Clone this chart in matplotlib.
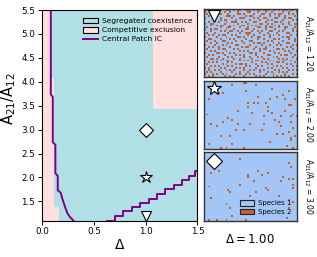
import numpy as np
import matplotlib
matplotlib.use("Agg")
import matplotlib.pyplot as plt
from matplotlib.colors import ListedColormap
from matplotlib.patches import Patch
from matplotlib.lines import Line2D

# ---------------- data ----------------
# phase diagram grid (Delta edges x ratio edges), 0 = segregated coexistence, 1 = competitive exclusion
delta_edges = [0.0, 0.087, 0.12, 0.165, 1.07, 1.5]
ratio_edges = [1.1, 1.38, 3.44, 4.08, 5.5]
phase = [
    [1, 1, 1, 0, 0],
    [1, 1, 0, 0, 0],
    [1, 1, 0, 0, 1],
    [1, 0, 0, 0, 1],
]

# Central patch IC boundary (left branch)
left_delta = [0.085, 0.085, 0.104, 0.104, 0.129, 0.129, 0.152, 0.152, 0.181, 0.194, 0.223, 0.245, 0.271, 0.303]
left_ratio = [5.5, 3.74, 3.68, 2.74, 2.68, 2.09, 2.03, 1.73, 1.68, 1.57, 1.38, 1.25, 1.17, 1.10]
# right branch (staircase)
right_delta = [0.63, 0.70, 0.78, 0.87, 0.95, 1.03, 1.11, 1.19, 1.27, 1.35, 1.42, 1.48, 1.50]
right_ratio = [1.10, 1.20, 1.29, 1.38, 1.47, 1.56, 1.65, 1.75, 1.85, 1.94, 2.04, 2.14, 2.14]

# snapshot parameters
snap_delta = 1.0
snap_ratios = [1.20, 2.00, 3.00]
snap_markers = ["v", "*", "D"]

# lattice snapshot for ratio 1.20 ('#' = species 2)
lattice_120 = [
    "##.###.##..###.#.##..###.#.##.###..##.#.###.##.#",
    "#...##....#..#...#....##...#...#..#.....#..#...#",
    ".#..#..##...#....##.#....#...##..#..#.##...#.#..",
    "..#...#....###.#.....#.##...#....#....#..#....#.",
    "#...##..#.....#...###....#.#..##....##...#.##...",
    ".....#..#.##....#......#....#...#.#.....#....#.#",
    "..#....#...#..###..#.#...##....#....##.#...#....",
    "#..##.....#......#....#.....##..#.#.....#..#..##",
    "...#..#.##...#.#...##...#.#....#....#.#.....#...",
    ".#......#...##....#...#....##..#.##...#..##...#.",
    "#..#.##....#...#.....##..#.....#....#....#...#..",
    "...#....#.#..##..#.#....#..#.#...##...#.#....#.#",
    ".#...#......#.....#..###....#...#....#....##....",
    "..#.#..#.##...#.#.....#..#....#..#.#..#.....#..#",
    "#.....#....#.....##.#...#..##....#......#.##....",
    "..##....#....#.#.....#.....#..#....##.#....#..#.",
    ".#...#...##.....#..#...##.......#.#.....#.....#.",
    "...#..#.....#.#.....#....#.##.#....#..#...##....",
    "#....#...#.#....##.....#.....#...#...#.#.....#.#",
    "..#.#..#.....#.....#.##...#....#...#......#.#...",
    ".#.....#.##....#.#.......#..#.##.....##.#....#..",
    "...#.#.....#......#.#.#.....#....#.#.....#.#...#",
    "#.....##.#...#.#.......##.#...#.....#.#.....#...",
    "..#.#.....#.....#.#.#.....#.....##.....#.##...#.",
    ".#.....#....#.#.....#..#...#.#.....#.#.......#..",
    "...##.#..#.....#..#.....#.....#.#.....#.#.#....#",
    "#.......#..##.....#.#.#...##.....#.#.....#..#...",
    "..#.#.#.....#.#.........#....#.#.....##.#.....#.",
    ".#.......#.#....#.##.#....#.....#.#.......#.#...",
    "...#.#.#....#.#......#.#...#.#.....#.#.#.....#.#",
    "#.#.....#.#.....#.#.#.....#.....#.#.....#.#.....",
    "..#..#.#...#.#.#....#..#.#..#.#.....#.#....#.#.#",
    ".#.#....#.....#...#...#.....#...#.#...#.#.#.....",
    "#...#.#..#.#....#.#..#.#.#.....#...#.....#...#.#",
    "..#.#.....#..#.#....#.....#.#.#....#.#.#.#.#....",
]
# species-2 cells (col, row) for ratio 2.00
cells_200 = [(14, 2), (20, 1), (21, 1), (26, 2), (7, 6), (9, 6), (21, 5), (34, 4), (43, 5), (40, 7),
             (37, 8), (27, 8), (33, 9), (41, 9), (2, 9), (22, 11), (25, 11), (27, 11), (31, 11),
             (46, 9), (44, 12), (43, 12), (32, 13), (22, 13), (41, 15), (17, 15), (24, 16), (34, 16),
             (32, 15), (30, 18), (1, 17), (12, 19), (14, 20), (45, 17), (47, 18), (44, 18), (39, 18),
             (38, 21), (23, 22), (17, 22), (9, 21), (3, 22), (6, 23), (30, 22), (36, 20), (44, 21),
             (20, 25), (29, 25), (45, 24), (43, 26), (40, 27), (37, 27), (8, 28), (16, 25), (13, 28),
             (46, 28), (44, 30), (42, 33), (33, 31), (14, 32), (2, 32), (8, 34), (11, 34), (20, 34),
             (45, 34), (39, 23), (44, 29)]
# species-2 cells (col, row) for ratio 3.00
cells_300 = [(18, 3), (43, 5), (44, 7), (7, 9), (3, 10), (27, 9), (32, 10), (22, 11), (22, 12),
             (25, 14), (29, 11), (40, 12), (43, 13), (45, 13), (39, 14), (45, 16), (18, 16), (31, 18),
             (32, 19), (45, 18), (2, 17), (12, 19), (13, 20), (26, 20), (23, 22), (38, 22), (3, 23),
             (43, 24), (45, 25), (11, 26), (13, 28), (43, 28), (14, 32), (42, 33), (11, 34), (6, 34),
             (2, 34), (21, 34)]

NCOL, NROW = 48, 35

# ---------------- style ----------------
c_coex = "#b0dfe5"
c_excl = "#ffe0de"
c_line = "#800080"
c_sp1 = "#a3c6f7"
c_sp2 = "#c0622a"

fig = plt.figure(figsize=(3.17, 2.57), dpi=100)

ax = fig.add_axes([0.1325, 0.142, 0.4905, 0.819])
ax.pcolormesh(delta_edges, ratio_edges, np.array(phase),
              cmap=ListedColormap([c_coex, c_excl]), vmin=0, vmax=1, shading="flat")
ax.plot(left_delta, left_ratio, color=c_line, lw=1.4)
ax.step(right_delta, right_ratio, where="post", color=c_line, lw=1.4)
for r, m in zip(snap_ratios, snap_markers):
    ms = 9 if m == "*" else 7
    ax.plot(snap_delta, r, marker=m, ms=ms, mfc="white", mec="black", mew=0.8,
            clip_on=False, zorder=5)
ax.set_xlim(0, 1.5)
ax.set_ylim(1.1, 5.5)
ax.set_xticks([0.0, 0.5, 1.0, 1.5])
ax.set_yticks([1.5, 2.0, 2.5, 3.0, 3.5, 4.0, 4.5, 5.0, 5.5])
ax.tick_params(labelsize=6.3, length=3, width=0.7, pad=2)
ax.set_xlabel("Δ", fontsize=10, labelpad=1)
ax.set_ylabel(r"$\mathregular{A_{21}/A_{12}}$", fontsize=10.5, labelpad=2)
ax.yaxis.set_label_coords(-0.155, 0.58)
for s in ax.spines.values():
    s.set_linewidth(0.8)

handles = [Patch(facecolor=c_coex, edgecolor="black", lw=0.8, label="Segregated coexistence"),
           Patch(facecolor=c_excl, edgecolor="black", lw=0.8, label="Competitive exclusion"),
           Line2D([], [], color=c_line, lw=1.4, label="Central Patch IC")]
ax.legend(handles=handles, loc="upper right", bbox_to_anchor=(1.0, 0.985), frameon=False,
          fontsize=5.4, handlelength=2.0, handleheight=0.8, labelspacing=0.35,
          handletextpad=0.6, borderaxespad=0.2)

# ---------------- snapshot panels ----------------
def grid_from_rows(rows):
    g = np.zeros((NROW, NCOL))
    for i, row in enumerate(rows):
        row = row.ljust(NCOL, ".")[:NCOL]
        for j, ch in enumerate(row):
            if ch == "#":
                g[i, j] = 1
    return g

def grid_from_cells(cells):
    g = np.zeros((NROW, NCOL))
    for c, r in cells:
        g[min(r, NROW - 1), min(c, NCOL - 1)] = 1
    return g

grids = [grid_from_rows(lattice_120), grid_from_cells(cells_200), grid_from_cells(cells_300)]
panel_pos = [[0.6426, 0.700, 0.2944, 0.264],
             [0.6426, 0.420, 0.2944, 0.266],
             [0.6426, 0.141, 0.2944, 0.268]]
marker_y = [0.90, 0.89, 0.87]

for k, (g, pos, r, m) in enumerate(zip(grids, panel_pos, snap_ratios, snap_markers)):
    pa = fig.add_axes(pos)
    pa.imshow(g, cmap=ListedColormap([c_sp1, c_sp2]), vmin=0, vmax=1,
              aspect="auto", interpolation="nearest")
    pa.set_xticks([])
    pa.set_yticks([])
    for s in pa.spines.values():
        s.set_color("#333333")
        s.set_linewidth(1.0)
    ms = 10 if m == "*" else 8
    pa.plot(0.105, marker_y[k], marker=m, ms=ms, mfc="white", mec="black", mew=0.8,
            transform=pa.transAxes, clip_on=False, zorder=5)
    fig.text(0.972, pos[1] + pos[3] / 2,
             r"$\mathregular{A_{21}/A_{12}}$ = " + f"{r:.2f}",
             rotation=270, ha="center", va="center", fontsize=5.5)
    if k == 2:
        sh = [Patch(facecolor=c_sp1, edgecolor="#222222", lw=0.8, label="Species 1"),
              Patch(facecolor=c_sp2, edgecolor="#222222", lw=0.8, label="Species 2")]
        pa.legend(handles=sh, loc="lower right", frameon=False, fontsize=5.0,
                  handlelength=2.0, handleheight=0.8, labelspacing=0.4,
                  handletextpad=0.6, borderaxespad=0.4)

fig.text(0.789, 0.068, r"$\Delta = 1.00$", ha="center", va="center", fontsize=8.5)

fig.savefig("out.png", dpi=100)
